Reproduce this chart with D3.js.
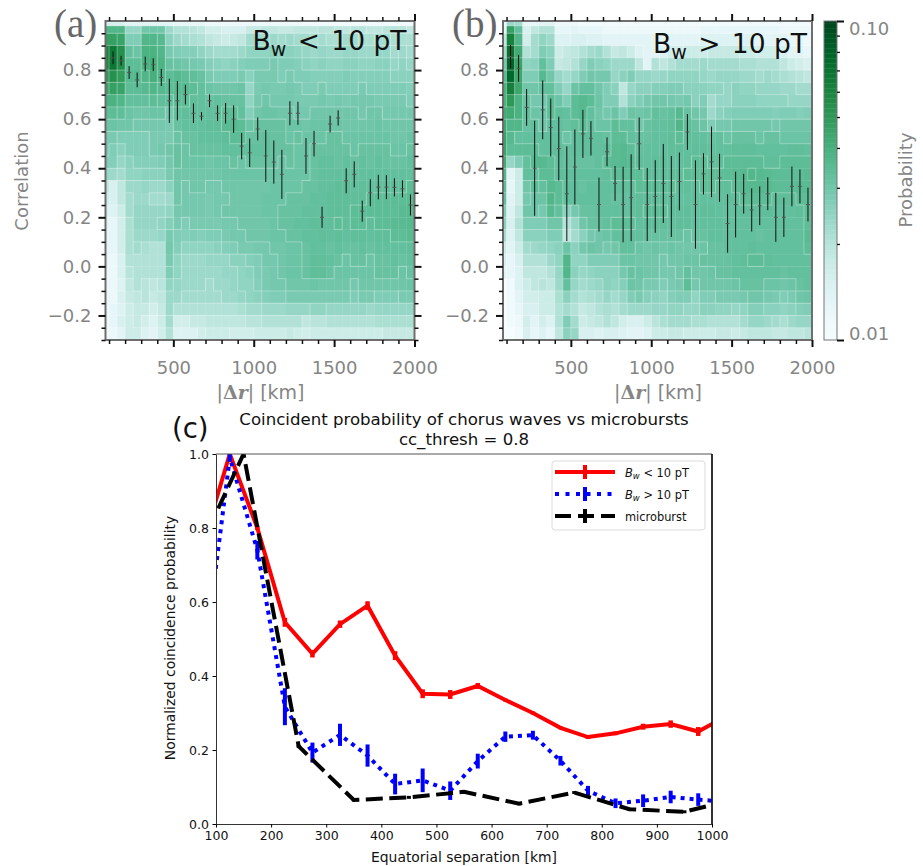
<!DOCTYPE html>
<html><head><meta charset="utf-8">
<style>html,body{margin:0;padding:0;background:#fff}svg{display:block}</style>
<script src="https://cdn.jsdelivr.net/npm/d3@7/dist/d3.min.js"></script></head><body>
<script>
// ---------- data ----------
const colEdges = [50,100,150,200,250,300,350,400,450,500,550,600,650,700,750,800,850,900,950,1000,1050,1100,1150,1200,1250,1300,1350,1400,1450,1500,1550,1600,1650,1700,1750,1800,1850,1900,1950,2000];
const rowEdges = [1.0,0.98,0.95,0.9,0.85,0.8,0.75,0.7,0.65,0.6,0.55,0.5,0.45,0.4,0.35,0.3,0.25,0.2,0.15,0.1,0.05,0,-0.05,-0.1,-0.15,-0.2,-0.25,-0.3];
// probability x 1000
const heatA = [
[16,16,16,14,14,14,14,14,14,13,13,13,13,12,12,12,12,12,12,12,12,12,12,12,12,11,11,11,11,11,11,11,11,11,11,11,11,11,11],
[42,42,42,26,26,33,33,33,25,22,22,21,20,17,17,16,16,16,19,19,20,20,19,19,20,20,20,21,21,20,20,21,21,20,20,21,21,21,20],
[54,54,52,30,30,42,42,40,28,25,24,23,22,20,19,18,19,20,24,24,24,25,24,25,24,24,23,24,23,23,24,24,23,23,24,24,23,23,23],
[72,78,62,36,34,44,44,42,31,30,29,29,27,25,24,24,24,25,27,27,27,28,27,28,27,26,25,26,25,25,26,26,25,25,26,26,24,25,24],
[70,80,64,38,38,44,46,43,35,34,33,32,31,29,28,27,28,29,30,30,30,31,30,30,29,28,27,28,27,27,28,28,27,27,28,28,26,27,26],
[58,62,56,40,40,42,46,42,38,40,38,37,35,31,30,30,30,31,28,31,31,31,30,31,30,30,29,29,29,29,30,29,29,29,29,29,28,28,28],
[52,54,52,38,38,40,42,40,38,39,40,38,36,34,33,33,33,34,26,31,32,31,31,32,31,30,30,31,30,30,30,30,31,30,30,30,30,30,29],
[44,44,42,36,36,36,38,37,36,38,38,37,36,35,36,35,35,35,27,32,33,32,32,32,31,31,31,32,31,32,31,32,32,32,31,31,31,31,30],
[38,38,37,34,33,33,34,34,32,36,37,37,36,36,37,38,38,36,29,33,34,34,33,33,32,32,33,33,33,33,33,33,32,33,33,32,32,32,32],
[34,34,33,33,32,32,32,32,31,35,36,36,36,37,37,39,40,38,34,35,35,35,35,34,34,33,34,34,34,34,33,33,33,33,34,33,33,33,33],
[31,31,30,30,30,30,31,31,31,34,35,35,36,36,36,37,38,38,35,35,36,35,35,34,35,34,34,34,35,35,34,34,34,34,34,34,33,33,34],
[31,30,28,30,30,30,31,32,33,35,34,35,35,35,35,36,36,36,36,36,36,35,35,35,34,34,35,35,35,35,35,34,35,35,35,35,34,34,35],
[30,29,26,28,29,29,29,30,32,35,34,34,34,33,34,34,35,34,35,35,35,35,34,35,34,34,35,36,36,35,36,35,36,35,36,35,35,35,36],
[26,25,24,27,27,28,28,28,31,33,33,33,33,33,33,34,34,34,34,34,34,34,34,34,34,34,35,36,36,36,36,36,36,36,36,36,36,36,36],
[20,16,20,25,25,26,25,25,28,33,32,33,33,32,32,33,33,33,33,33,33,34,34,34,34,35,35,36,36,37,37,36,37,36,37,37,37,37,38],
[18,16,20,24,25,25,24,24,25,33,32,32,32,31,32,32,33,33,33,33,34,34,34,35,35,35,36,36,37,37,37,37,37,38,38,38,38,38,39],
[16,15,18,24,26,26,26,26,27,32,32,32,32,31,32,33,33,33,33,33,34,34,35,35,35,36,36,36,37,37,37,38,38,38,38,38,38,39,40],
[14,13,17,23,26,26,26,27,29,31,30,31,31,31,31,32,32,33,33,33,33,34,35,35,36,36,37,37,37,38,37,38,38,37,38,38,39,39,40],
[13,13,17,23,25,25,25,26,31,30,29,30,29,30,30,31,32,32,33,33,33,34,34,35,35,36,36,37,36,37,36,37,37,36,37,37,38,38,39],
[13,13,17,23,24,23,22,22,32,29,27,27,27,27,28,29,30,31,31,32,32,33,33,34,34,35,36,36,35,36,35,35,36,35,36,36,36,36,37],
[13,12,16,22,22,22,22,22,31,27,25,25,25,26,26,26,28,28,29,30,32,32,33,34,34,35,37,37,36,35,34,35,35,34,35,35,36,35,36],
[12,12,16,21,22,22,22,22,30,27,25,25,25,25,25,26,26,27,28,30,31,32,33,34,34,35,37,37,35,34,34,34,34,34,35,35,35,34,35],
[12,12,15,20,22,21,20,21,27,26,25,25,25,24,25,25,26,27,27,29,31,32,32,33,33,33,34,33,33,33,33,32,33,33,33,33,33,33,34],
[12,12,16,19,20,21,19,20,25,25,24,24,24,24,24,25,25,26,27,28,29,30,30,31,31,31,31,31,31,31,31,30,31,31,30,30,30,31,31],
[12,13,15,18,19,19,17,19,25,22,22,22,22,22,22,22,22,23,24,24,25,25,25,26,26,26,27,27,26,26,26,26,26,25,26,26,26,26,26],
[12,13,16,18,19,17,15,18,24,17,17,19,19,20,20,20,20,20,21,21,22,22,22,22,22,20,21,21,22,22,22,22,22,22,23,23,23,23,23],
[11,12,14,18,18,15,14,17,22,15,15,15,17,18,18,18,17,17,17,18,18,18,18,19,18,17,18,18,18,18,18,18,18,18,18,19,19,19,19]
];
const heatB = [
[12,25,24,13,13,14,14,12,12,12,11,11,11,11,11,11,11,11,11,11,11,11,11,11,11,11,11,11,11,11,11,11,11,11,11,11,11,11,11],
[13,54,36,16,20,22,22,13,13,14,13,13,13,12,12,12,12,12,12,12,12,12,12,12,12,13,13,13,13,13,13,13,13,13,13,12,12,12,12],
[20,72,42,17,24,27,25,15,15,16,16,15,15,14,14,14,14,14,14,14,13,14,14,14,14,15,15,15,15,15,15,15,14,14,14,14,13,13,12],
[25,88,48,22,24,30,28,18,19,20,22,24,25,22,19,20,18,15,14,14,15,17,17,18,18,18,19,19,19,19,18,18,17,17,17,16,14,14,13],
[32,96,52,27,28,36,30,19,20,22,26,30,28,27,25,25,25,20,14,22,20,22,24,24,24,25,24,24,24,24,23,23,22,22,22,20,18,17,16],
[40,90,50,30,30,40,33,26,24,26,30,33,32,32,26,28,30,26,26,25,26,27,27,27,27,26,25,26,26,26,25,25,24,25,24,23,22,21,20],
[45,74,50,33,33,36,36,30,26,34,36,36,33,30,28,20,26,28,28,29,29,30,30,28,28,28,27,27,26,28,27,27,26,26,26,25,25,24,24],
[45,58,44,35,32,32,38,34,30,38,40,38,34,30,30,22,28,30,32,33,33,32,31,32,28,30,24,26,26,28,28,28,27,27,27,27,26,26,26],
[48,48,44,36,34,33,38,37,36,38,40,36,33,32,34,30,34,33,34,36,35,36,40,35,33,32,25,28,29,30,30,30,30,30,29,30,30,29,30],
[50,42,42,35,36,33,36,36,35,37,38,36,34,34,38,36,36,33,35,36,36,37,42,37,35,34,30,32,32,33,33,33,33,33,32,33,33,33,33],
[52,40,36,36,36,36,36,36,34,36,37,36,36,35,38,38,36,35,35,36,36,37,38,37,36,36,35,36,34,35,35,35,34,35,35,34,34,34,34],
[52,38,38,38,38,36,36,37,35,36,36,36,36,37,39,40,38,36,36,36,36,37,37,36,37,37,36,36,36,37,37,37,36,36,36,36,37,37,36],
[48,26,30,36,40,40,38,36,35,35,35,35,36,38,39,40,39,37,36,37,37,36,36,37,38,38,37,37,38,38,38,38,38,37,37,38,38,38,38],
[42,14,18,36,36,38,38,37,36,36,36,36,36,37,38,38,38,38,37,37,37,37,37,38,38,38,38,38,38,39,40,41,40,39,38,38,38,38,39],
[38,13,18,33,38,36,40,38,36,36,35,36,36,36,36,37,37,38,38,38,38,38,37,37,37,38,38,37,37,38,39,40,40,39,38,38,38,39,39],
[36,14,18,32,34,34,42,38,36,36,36,36,36,36,35,36,36,37,37,37,37,37,36,36,37,36,36,36,37,37,38,38,38,38,37,37,37,38,38],
[30,15,20,33,33,32,40,36,28,32,35,35,36,36,36,36,36,37,38,38,38,37,37,37,36,37,37,36,36,36,37,37,37,37,36,36,36,37,38],
[28,16,22,30,30,30,33,33,22,26,33,35,35,36,38,38,38,36,37,37,37,36,37,37,36,36,36,36,36,36,36,36,36,36,36,36,36,36,38],
[24,15,20,28,28,28,30,30,20,24,28,32,33,34,36,36,36,36,35,35,35,35,35,34,35,35,36,36,36,36,36,36,35,36,36,36,36,36,39],
[18,14,18,24,25,26,27,28,34,28,32,34,33,32,33,36,36,34,33,34,33,34,33,33,33,34,35,35,36,36,36,37,36,36,36,36,36,36,38],
[16,13,16,22,22,22,25,27,42,27,27,30,30,30,30,34,34,33,33,33,32,33,33,34,34,35,35,35,35,36,37,38,38,37,36,36,36,36,36],
[14,13,15,20,20,20,22,26,42,28,26,27,28,28,28,32,35,34,33,33,32,32,33,36,33,33,34,35,35,36,36,36,36,36,36,35,36,36,36],
[10,11,15,18,20,21,20,25,36,26,24,25,26,28,27,29,34,33,31,31,30,31,32,38,32,33,33,33,33,34,35,35,35,34,34,33,34,35,36],
[10,11,14,17,17,18,18,23,28,24,22,23,24,26,24,26,30,31,29,28,27,29,30,30,27,30,30,31,31,31,32,33,33,32,31,30,31,33,34],
[10,11,13,16,16,18,18,22,24,22,19,20,22,23,22,24,25,25,25,26,26,27,27,26,26,28,28,27,27,26,27,29,29,28,28,27,28,29,30],
[10,11,12,17,14,17,15,22,30,24,18,19,20,22,20,17,16,16,18,21,23,24,24,24,23,23,22,22,22,22,24,26,26,25,24,23,25,26,26],
[10,10,11,16,13,15,13,20,28,26,16,16,15,16,16,15,14,14,15,18,18,19,19,18,18,18,18,19,19,18,19,20,20,20,19,19,20,20,21]
];
const sepCenters = [125,175,225,275,325,375,425,475,525,575,625,675,725,775,825,875,925,975,1025,1075,1125,1175,1225,1275,1325,1375,1425,1475,1525,1575,1625,1675,1725,1775,1825,1875,1925,1975];
const corrA = [.85,.838,.79,.76,.825,.822,.77,.675,.675,.70,.624,.612,.675,.624,.624,.60,.49,.463,.56,.45,.425,.375,.624,.624,.45,.50,.20,.58,.605,.349,.375,.225,.30,.323,.323,.322,.316,.25];
const corrErrA = [.026,.02,.026,.03,.03,.026,.035,.09,.08,.04,.04,.017,.026,.032,.042,.056,.054,.058,.047,.106,.088,.1,.049,.047,.073,.052,.043,.034,.031,.051,.053,.043,.055,.05,.049,.037,.035,.043];
const corrB = [.855,.807,.648,.40,.638,.566,.48,.296,.405,.54,.522,.252,.467,.338,.252,.28,.50,.252,.285,.338,.285,.346,.548,.252,.377,.426,.361,.175,.252,.296,.23,.247,.296,.20,.20,.326,.326,.252];
const corrErrB = [.048,.055,.075,.194,.12,.118,.13,.193,.153,.098,.07,.11,.059,.071,.154,.177,.107,.149,.148,.161,.165,.118,.073,.18,.084,.144,.098,.119,.134,.081,.088,.079,.067,.1,.08,.081,.069,.069];

const cBinsOffset = [75,125,175,225,275,325,375,425,475,525,575,625,675,725,775,825,875,925,975,1025];
const redVals = [.75,1.0,.80,.545,.46,.54,.59,.455,.352,.35,.373,.335,.30,.26,.235,.245,.263,.27,.25,.29];
const redErr = [0,.004,.006,.012,.01,.01,.012,.012,.012,.012,.008,.004,.004,.004,.005,.005,.008,.01,.012,0];
const blueVals = [.40,.99,.74,.317,.193,.241,.185,.108,.118,.09,.17,.236,.24,.171,.09,.056,.063,.073,.066,.06];
const blueErr = [0,.01,.025,.05,.027,.03,.03,.028,.032,.025,.02,.014,.012,.013,.013,.013,.017,.017,.017,0];
const blackBins = [50,150,250,350,450,550,650,750,850,950,1050];
const blackVals = [.68,1.0,.21,.065,.072,.087,.055,.085,.04,.033,.07];
const blackErr = [.004,.004,.004,.004,.004,.004,.004,.004,.004,.004,.004];

const xTicksMajor = [500,1000,1500,2000];
const xTicksMinor = [100,200,300,400,600,700,800,900,1100,1200,1300,1400,1600,1700,1800,1900];
const yTicksMajor = [-0.2,0,0.2,0.4,0.6,0.8];
const yTicksMinor = [-0.3,-0.25,-0.15,-0.1,-0.05,0.05,0.1,0.15,0.25,0.3,0.35,0.45,0.5,0.55,0.65,0.7,0.75,0.85,0.9,0.95];
const cbarMinor = [0.02,0.03,0.04,0.05,0.06,0.07,0.08,0.09];
const cXTicks = [100,200,300,400,500,600,700,800,900,1000];
const cYTicks = [0,0.2,0.4,0.6,0.8,1.0];

// ---------- layout ----------
const GRAY = "#858585", SANS = "DejaVu Sans";
const svg = d3.select("body").append("svg").attr("width",923).attr("height",866).style("font-family",SANS);
const defs = svg.append("defs");
defs.append("filter").attr("id","soft").attr("x","-2%").attr("y","-2%").attr("width","104%").attr("height","104%")
  .append("feGaussianBlur").attr("stdDeviation",0.45);
const logNorm = d3.scaleLog().domain([10,122]).range([0,1]).clamp(true);
const colorOf = v => d3.interpolateBuGn(logNorm(v));

function panel(o){
  const x = d3.scaleLinear().domain([78,2000]).range([o.left,o.left+309]);
  const y = d3.scaleLinear().domain([-0.3,1.0]).range([340,21]);
  const clip = "clip"+o.name;
  defs.append("clipPath").attr("id",clip).append("rect").attr("x",o.left).attr("y",21).attr("width",309).attr("height",319);
  const g = svg.append("g").attr("clip-path",`url(#${clip})`);
  const gh = g.append("g").attr("filter","url(#soft)");
  const cells = [];
  o.heat.forEach((row,r)=>row.forEach((v,c)=>cells.push({r,c,v})));
  gh.selectAll("rect.c").data(cells).join("rect").attr("class","c")
    .attr("x",d=>x(colEdges[d.c])).attr("width",d=>x(colEdges[d.c+1])-x(colEdges[d.c])+0.3)
    .attr("y",d=>y(rowEdges[d.r])).attr("height",d=>y(rowEdges[d.r+1])-y(rowEdges[d.r])+0.3)
    .attr("fill",d=>colorOf(d.v));
  const lev = v => Math.floor(logNorm(v)*36);
  const edgePath = d3.path();
  o.heat.forEach((row,r)=>row.forEach((v,c)=>{
    if(c+1<row.length && lev(row[c+1])!==lev(v)){edgePath.moveTo(x(colEdges[c+1]),y(rowEdges[r]));edgePath.lineTo(x(colEdges[c+1]),y(rowEdges[r+1]));}
    if(r+1<o.heat.length && lev(o.heat[r+1][c])!==lev(v)){edgePath.moveTo(x(colEdges[c]),y(rowEdges[r+1]));edgePath.lineTo(x(colEdges[c+1]),y(rowEdges[r+1]));}
  }));
  gh.append("path").attr("d",edgePath.toString()).attr("fill","none").attr("stroke","#fff").attr("stroke-opacity",.3).attr("stroke-width",1);
  g.selectAll("line.e").data(sepCenters).join("line").attr("class","e")
    .attr("x1",d=>x(d)).attr("x2",d=>x(d))
    .attr("y1",(d,i)=>y(o.corr[i]+o.err[i])).attr("y2",(d,i)=>y(o.corr[i]-o.err[i]))
    .attr("stroke","#111").attr("stroke-width",1);
  g.selectAll("line.m").data(sepCenters).join("line").attr("class","m")
    .attr("x1",d=>x(d)-2).attr("x2",d=>x(d)+2)
    .attr("y1",(d,i)=>y(o.corr[i])).attr("y2",(d,i)=>y(o.corr[i]))
    .attr("stroke","#555").attr("stroke-width",1);
  svg.append("rect").attr("x",o.left).attr("y",21).attr("width",309).attr("height",319)
    .attr("fill","none").attr("stroke","#6e6e6e").attr("stroke-width",2);
  const sideX = (gen,t)=>{
    const mj = svg.append("g").attr("transform",t).call(gen(x).tickValues(xTicksMajor).tickSize(7).tickSizeOuter(0).tickPadding(14).tickFormat(d3.format("d")));
    mj.select(".domain").remove(); mj.selectAll(".tick line").attr("stroke","#111").attr("stroke-width",2);
    mj.selectAll("text").style("font-size","18px").style("font-family",SANS).attr("fill",GRAY);
    const mn = svg.append("g").attr("transform",t).call(gen(x).tickValues(xTicksMinor).tickSize(4).tickSizeOuter(0).tickFormat(""));
    mn.select(".domain").remove(); mn.selectAll(".tick line").attr("stroke","#111").attr("stroke-width",1.5);
    return mj;
  };
  sideX(d3.axisBottom,"translate(0,340)");
  const top = sideX(d3.axisTop,"translate(0,21)"); top.selectAll("text").remove();
  const sideY = (gen,t,lab)=>{
    const mj = svg.append("g").attr("transform",t).call(gen(y).tickValues(yTicksMajor).tickSize(7).tickSizeOuter(0).tickPadding(7).tickFormat(d3.format(".1f")));
    mj.select(".domain").remove(); mj.selectAll(".tick line").attr("stroke","#111").attr("stroke-width",2);
    mj.selectAll("text").style("font-size","18px").style("font-family",SANS).attr("fill",GRAY);
    if(!lab) mj.selectAll("text").remove();
    const mn = svg.append("g").attr("transform",t).call(gen(y).tickValues(yTicksMinor).tickSize(4).tickSizeOuter(0).tickFormat(""));
    mn.select(".domain").remove(); mn.selectAll(".tick line").attr("stroke","#111").attr("stroke-width",1.5);
  };
  sideY(d3.axisLeft,`translate(${o.left},0)`,true);
  if(o.rightTicks) sideY(d3.axisRight,`translate(${o.left+309},0)`,false);
  const xl = svg.append("text").attr("x",o.left+155).attr("y",399).attr("text-anchor","middle").style("font-size","19px").attr("fill",GRAY);
  xl.append("tspan").text("|");
  xl.append("tspan").style("font-weight","bold").style("font-family","DejaVu Serif").text("Δ");
  xl.append("tspan").style("font-weight","bold").style("font-style","italic").style("font-family","DejaVu Serif").text("r");
  xl.append("tspan").text("| [km]");
  svg.append("text").attr("x",o.letterX).attr("y",37).style("font-family","Liberation Serif").style("font-size","39px").attr("fill","#666").text(o.letter);
  const a = svg.append("text").attr("x",o.left+o.noteX).attr("y",o.noteY).attr("text-anchor","end").style("font-size","26.5px").attr("fill","#111");
  a.append("tspan").text("B");
  a.append("tspan").style("font-size","19px").attr("dy",6).text("w");
  a.append("tspan").attr("dy",-6).attr("dx",3).text(" "+o.cmp+" ");
  a.append("tspan").attr("dx",3).text("10 pT");
}
panel({name:"a",left:105.5,heat:heatA,corr:corrA,err:corrErrA,rightTicks:true,letter:"(a)",letterX:54,noteX:301,noteY:50,cmp:"<"});
panel({name:"b",left:503,heat:heatB,corr:corrB,err:corrErrB,rightTicks:false,letter:"(b)",letterX:452,noteX:304,noteY:53,cmp:">"});

svg.append("text").attr("transform","translate(28,181) rotate(-90)").attr("text-anchor","middle").style("font-size","18px").attr("fill",GRAY).text("Correlation");

// ---------- colour bar ----------
const cb = d3.scaleLog().domain([0.01,0.1]).range([340,21]);
const cbSteps = d3.range(0,128);
svg.append("g").selectAll("rect").data(cbSteps).join("rect")
  .attr("x",824).attr("width",13)
  .attr("y",d=>340-(d+1)*319/128).attr("height",319/128+0.4)
  .attr("fill",d=>d3.interpolateBuGn((d+0.5)/128));
svg.append("rect").attr("x",824).attr("y",21).attr("width",13).attr("height",319).attr("fill","none").attr("stroke","#777").attr("stroke-width",1);
const cbMinor = svg.append("g").attr("transform","translate(837,0)").call(d3.axisRight(cb).tickValues(cbarMinor).tickSize(3).tickFormat(""));
cbMinor.select(".domain").remove(); cbMinor.selectAll("line").attr("stroke","#111").attr("stroke-width",1.3);
const cbMajor = svg.append("g").attr("transform","translate(837,0)").call(d3.axisRight(cb).tickValues([0.01,0.1]).tickSize(7).tickFormat(""));
cbMajor.select(".domain").remove(); cbMajor.selectAll("line").attr("stroke","#111").attr("stroke-width",2);
svg.append("text").attr("x",849).attr("y",34.5).style("font-size","18px").attr("fill",GRAY).text("0.10");
svg.append("text").attr("x",849).attr("y",340).style("font-size","18px").attr("fill",GRAY).text("0.01");
svg.append("text").attr("transform","translate(912,180) rotate(-90)").attr("text-anchor","middle").style("font-size","18px").attr("fill",GRAY).text("Probability");

// ---------- panel c ----------
const X0=216,X1=712,Y0=824,Y1=454;
const cx = d3.scaleLinear().domain([100,1000]).range([X0,X1]);
const cy = d3.scaleLinear().domain([0,1]).range([Y0,Y1]);
defs.append("clipPath").attr("id","clipc").append("rect").attr("x",X0).attr("y",Y1).attr("width",X1-X0).attr("height",Y0-Y1);
const pc = svg.append("g").attr("clip-path","url(#clipc)");
const line = d3.line().x(d=>cx(d[0])).y(d=>cy(d[1]));
const series = [
 {b:cBinsOffset,v:redVals,e:redErr,col:"#ff0000",dash:null,ew:4.5},
 {b:cBinsOffset,v:blueVals,e:blueErr,col:"#0000ff",dash:"4 5",ew:4},
 {b:blackBins,v:blackVals,e:blackErr,col:"#000",dash:"17 6.5",ew:4}
];
series.forEach(s=>{
  pc.append("path").datum(s.b.map((b,i)=>[b,s.v[i]])).attr("d",line).attr("fill","none").attr("stroke",s.col)
    .attr("stroke-width",4).attr("stroke-dasharray",s.dash).attr("stroke-linejoin","miter");
  pc.append("g").selectAll("line").data(s.b).join("line")
    .attr("x1",d=>cx(d)).attr("x2",d=>cx(d))
    .attr("y1",(d,i)=>cy(s.v[i]+s.e[i])).attr("y2",(d,i)=>cy(s.v[i]-s.e[i]))
    .attr("stroke",s.col).attr("stroke-width",s.ew);
});
const axB = svg.append("g").attr("transform",`translate(0,${Y0})`).call(d3.axisBottom(cx).tickValues(cXTicks).tickSize(3.5).tickSizeOuter(0).tickPadding(3.5).tickFormat(d3.format("d")));
axB.selectAll("text").style("font-size","12.5px").style("font-family",SANS).attr("fill","#111");
axB.select(".domain").attr("stroke","#333");
const axL = svg.append("g").attr("transform",`translate(${X0},0)`).call(d3.axisLeft(cy).tickValues(cYTicks).tickSize(3.5).tickSizeOuter(0).tickPadding(3.5).tickFormat(d3.format(".1f")));
axL.selectAll("text").style("font-size","12.5px").style("font-family",SANS).attr("fill","#111");
axL.select(".domain").attr("stroke","#333");
svg.append("line").attr("x1",X0).attr("x2",X1).attr("y1",Y1).attr("y2",Y1).attr("stroke","#555").attr("stroke-width",1);
svg.append("line").attr("x1",X1).attr("x2",X1).attr("y1",Y1).attr("y2",Y0).attr("stroke","#000").attr("stroke-width",1.6);

svg.append("text").attr("x",464).attr("y",425).attr("text-anchor","middle").style("font-size","16.6px").attr("fill","#111").text("Coincident probability of chorus waves vs microbursts");
svg.append("text").attr("x",464).attr("y",445).attr("text-anchor","middle").style("font-size","16.6px").attr("fill","#111").text("cc_thresh = 0.8");
svg.append("text").attr("x",172).attr("y",438).style("font-size","27.5px").attr("fill","#111").text("(c)");
svg.append("text").attr("x",464).attr("y",862).attr("text-anchor","middle").style("font-size","13.9px").attr("fill","#111").text("Equatorial separation [km]");
svg.append("text").attr("transform","translate(175,638) rotate(-90)").attr("text-anchor","middle").style("font-size","13.9px").attr("fill","#111").text("Normalized coincidence probability");

// legend
const lg = svg.append("g");
lg.append("rect").attr("x",552).attr("y",461).attr("width",153).attr("height",69).attr("rx",3).attr("fill","#fff").attr("fill-opacity",.8).attr("stroke","#dcdcdc").attr("stroke-width",1);
const legendNames = [["B","w"," < 10 pT"],["B","w"," > 10 pT"],["microburst"]];
series.forEach((s,i)=>{
  const ly = 472+i*22;
  lg.append("line").attr("x1",555).attr("x2",615).attr("y1",ly).attr("y2",ly).attr("stroke",s.col).attr("stroke-width",4).attr("stroke-dasharray",i==1?"4 6.5":i==2?"16 7":null);
  lg.append("line").attr("x1",585).attr("x2",585).attr("y1",ly-7).attr("y2",ly+7).attr("stroke",s.col).attr("stroke-width",4);
  const t = lg.append("text").attr("x",625).attr("y",ly+4.5).style("font-size","11.4px").attr("fill","#111");
  const n = legendNames[i];
  if(n.length==1) t.text(n[0]);
  else { t.append("tspan").style("font-style","italic").text(n[0]);
         t.append("tspan").style("font-style","italic").style("font-size","8.5px").attr("dy",2).text(n[1]);
         t.append("tspan").attr("dy",-2).text(n[2]); }
});
</script></body></html>
